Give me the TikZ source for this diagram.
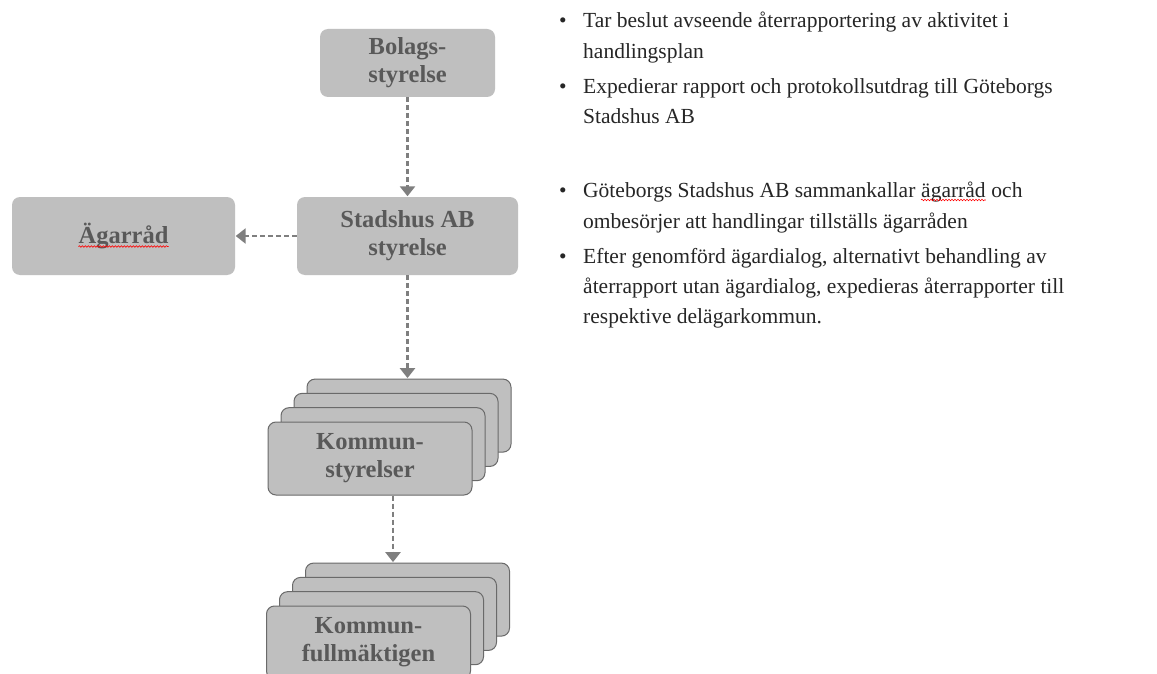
\documentclass[tikz,border=0pt]{standalone}
\usepackage{fontspec}
\setmainfont{Liberation Serif}
\usetikzlibrary{arrows.meta,decorations.pathmorphing,calc}
\definecolor{boxfill}{HTML}{BFBFBF}
\definecolor{boxtext}{HTML}{595959}
\definecolor{arrowc}{HTML}{7F7F7F}
\definecolor{stackline}{HTML}{6A6A6A}
\definecolor{bodytext}{HTML}{262626}
\tikzset{
  box/.style={rounded corners=8pt, fill=boxfill, draw=none, align=center,
    font=\bfseries\fontsize{24.5}{28}\selectfont, text=boxtext, inner sep=0pt},
  stackbox/.style={box, draw=stackline, line width=1pt,
    minimum width=204pt, minimum height=73pt},
  arr/.style={draw=arrowc, line width=2.6pt, dash pattern=on 5pt off 3pt,
    -{Triangle[length=10pt,width=15pt]}, shorten >=0.5pt},
  txt/.style={inner sep=0pt, anchor=base west, text=bodytext,
    font=\fontsize{21.5}{30}\selectfont},
  bul/.style={inner sep=0pt, anchor=base west, text=bodytext,
    font=\fontsize{21.5}{30}\selectfont},
  squiggle/.style={draw=red, line width=0.6pt, decorate,
    decoration={snake, amplitude=0.8pt, segment length=3pt}}
}
\begin{document}
\begin{tikzpicture}[x=1pt,y=-1pt]
\useasboundingbox (0,0) rectangle (1157,674);
\clip (0,0) rectangle (1157,674);
\fill[white] (0,0) rectangle (1157,674);

% top boxes
\node[box, minimum width=175pt, minimum height=68pt] (bol) at (407.5,63) {Bolags-\\styrelse};
\node[box, minimum width=221pt, minimum height=78pt] (sta) at (407.5,236) {Stadshus AB\\styrelse};
\node[box, minimum width=223pt, minimum height=78pt] (ag) at (123.5,236) {};
\node[inner sep=0pt, font=\bfseries\fontsize{24.5}{28}\selectfont, text=boxtext] (agt) at (ag.center) {Ägarråd};
\draw[squiggle] ([yshift=-3pt]agt.base west) -- ([yshift=-3pt]agt.base east);

% stack 1
\foreach \i in {3,2,1} {
  \node[stackbox] (ksb\i) at ($(370,458.5)+(\i*13,-\i*14.3)$) {};
}
\node[stackbox] (ks) at (370,458.5) {Kommun-\\styrelser};

% stack 2
\foreach \i in {3,2,1} {
  \node[stackbox] (kfb\i) at ($(368.5,642.5)+(\i*13,-\i*14.3)$) {};
}
\node[stackbox] (kf) at (368.5,642.5) {Kommun-\\fullmäktigen};

% arrows
\draw[arr] (bol.south) -- (sta.north);
\draw[arr] (sta.west) -- (ag.east);
\draw[arr] (sta.south) -- (sta.south |- ksb3.north);
\draw[arr] ([xshift=23pt]ks.south) -- ([xshift=23pt]ks.south |- kfb3.north);

% right text
\node[bul] (b1) at (559,28) {•};
\node[txt] (t1a) at (583,28) {Tar beslut avseende återrapportering av aktivitet i};
\node[txt] (t1b) at (583,59) {handlingsplan};
\node[bul] (b2) at (559,94) {•};
\node[txt] (t2a) at (583,94) {Expedierar rapport och protokollsutdrag till Göteborgs};
\node[txt] (t2b) at (583,124) {Stadshus AB};
\node[bul] (b3) at (559,197) {•};
\node[txt] (t3a) at (583,197) {Göteborgs Stadshus AB sammankallar};
\node[txt] (t3b) at ([xshift=5.4pt]t3a.base east) {ägarråd};
\node[txt] (t3c) at ([xshift=5.4pt]t3b.base east) {och};
\draw[squiggle] ([yshift=-3pt]t3b.base west) -- ([yshift=-3pt]t3b.base east);
\node[txt] (t3d) at (583,228) {ombesörjer att handlingar tillställs ägarråden};
\node[bul] (b4) at (559,263) {•};
\node[txt] (t4a) at (583,263) {Efter genomförd ägardialog, alternativt behandling av};
\node[txt] (t4b) at (583,293) {återrapport utan ägardialog, expedieras återrapporter till};
\node[txt] (t4c) at (583,323) {respektive delägarkommun.};
\end{tikzpicture}
\end{document}
